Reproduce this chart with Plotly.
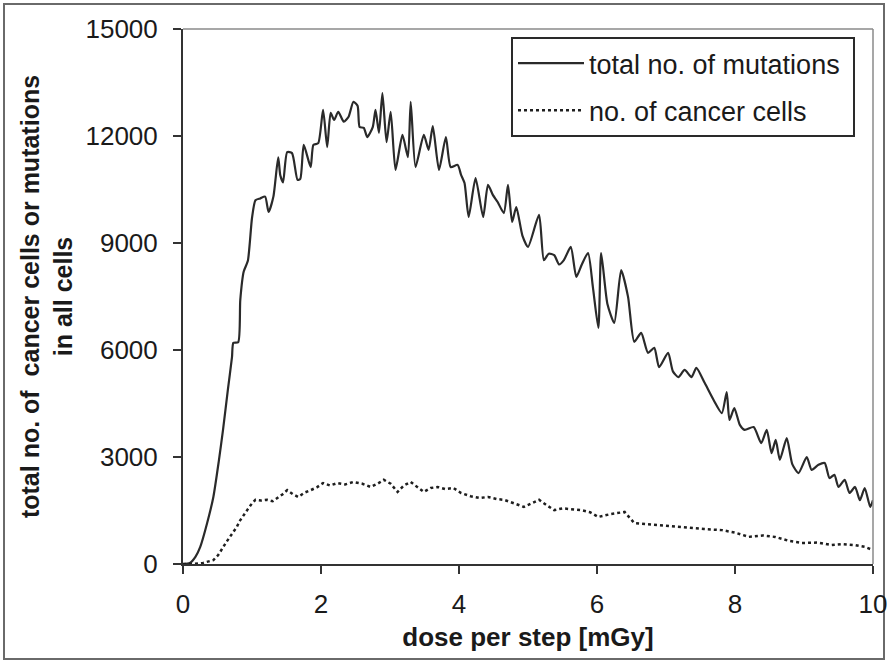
import plotly.graph_objects as go

# ---- data ----
mut_dose = [0.0, 0.1, 0.18, 0.25, 0.35, 0.44, 0.52, 0.58, 0.65, 0.71, 0.73, 0.80, 0.83, 0.88, 0.94,
            1.0, 1.05, 1.12, 1.19, 1.24, 1.31, 1.38, 1.41, 1.45, 1.51, 1.58, 1.66, 1.70, 1.75, 1.85,
            1.89, 1.96, 2.03, 2.09, 2.14, 2.19, 2.25, 2.33, 2.40, 2.47, 2.53, 2.56, 2.62, 2.67, 2.75,
            2.79, 2.84, 2.89, 2.95, 3.01, 3.08, 3.18, 3.26, 3.30, 3.37, 3.49, 3.56, 3.62, 3.71, 3.81,
            3.88, 3.98, 4.03, 4.08, 4.14, 4.24, 4.35, 4.42, 4.49, 4.56, 4.65, 4.71, 4.77, 4.83, 4.92,
            5.00, 5.16, 5.23, 5.30, 5.38, 5.45, 5.52, 5.62, 5.70, 5.78, 5.87, 5.94, 6.02, 6.06, 6.15,
            6.25, 6.35, 6.45, 6.54, 6.64, 6.74, 6.83, 6.90, 7.03, 7.10, 7.18, 7.27, 7.37, 7.44, 7.56,
            7.69, 7.81, 7.88, 7.92, 7.99, 8.07, 8.14, 8.27, 8.38, 8.46, 8.53, 8.59, 8.65, 8.75, 8.83,
            8.92, 9.04, 9.11, 9.21, 9.30, 9.37, 9.44, 9.50, 9.59, 9.66, 9.74, 9.81, 9.88, 9.96, 10.0]
mutations = [0, 30, 200, 480, 1150, 1880, 2900, 3760, 4880, 5800, 6200, 6220, 7400, 8200, 8500,
             9700, 10200, 10250, 10300, 9870, 10300, 11400, 10900, 10700, 11550, 11520, 10770, 10800, 11750, 11130,
             11750, 11800, 12730, 11690, 12650, 12450, 12680, 12400, 12540, 12960, 12850, 12250, 12230, 11970, 12250,
             12730, 12090, 13200, 11830, 12680, 11050, 12030, 11410, 12960, 11130, 12030, 11610, 12280, 11050, 11970,
             11130, 11190, 10910, 10680, 9730, 10820, 9730, 10630, 10350, 10150, 9840, 10630, 9590, 10010, 9200,
             8890, 9790, 8520, 8700, 8660, 8400, 8520, 8890, 8050, 8400, 8720, 7770, 6620, 8720, 7300,
             6760, 8240, 7490, 6230, 6480, 5920, 6060, 5520, 5920, 5400, 5240, 5440, 5240, 5500, 5080,
             4600, 4230, 4820, 4040, 4370, 3900, 3760, 3840, 3390, 3760, 3110, 3480, 2920, 3530, 2800,
             2550, 3000, 2640, 2780, 2830, 2410, 2500, 2160, 2360, 1990, 2160, 1790, 2130, 1600, 1790]

cancer_dose = [0.0, 0.15, 0.29, 0.36, 0.44, 0.51, 0.58, 0.63, 0.68, 0.73, 0.78, 0.82, 0.86, 0.93, 1.0,
               1.05, 1.13, 1.22, 1.30, 1.37, 1.44, 1.51, 1.59, 1.67, 1.76, 1.85, 1.94, 2.03, 2.13, 2.24,
               2.35, 2.47, 2.60, 2.72, 2.82, 2.91, 3.01, 3.11, 3.20, 3.30, 3.40, 3.49, 3.59, 3.69, 3.80,
               3.92, 4.03, 4.17, 4.30, 4.42, 4.55, 4.65, 4.80, 4.94, 5.05, 5.16, 5.27, 5.38, 5.50, 5.64,
               5.77, 5.90, 6.02, 6.20, 6.40, 6.54, 6.70, 6.93, 7.10, 7.33, 7.55, 7.81, 8.00, 8.20, 8.40,
               8.58, 8.78, 8.97, 9.20, 9.40, 9.55, 9.74, 9.88, 10.0]
cancer = [0, 0, 30, 60, 110, 250, 480, 620, 760, 900, 1040, 1200, 1320, 1510, 1700,
          1800, 1780, 1800, 1760, 1850, 1950, 2070, 1960, 1880, 2000, 2070, 2150, 2270, 2200, 2270,
          2230, 2300, 2250, 2160, 2250, 2360, 2250, 2020, 2200, 2300, 2150, 2020, 2130, 2160, 2100,
          2130, 1990, 1900, 1850, 1880, 1820, 1800, 1700, 1600, 1700, 1800, 1650, 1510, 1560, 1530,
          1510, 1450, 1320, 1400, 1460, 1150, 1120, 1090, 1060, 1010, 980, 950, 880, 760, 800,
          760, 650, 590, 600, 530, 560, 530, 480, 390]

y_ticks = [0, 3000, 6000, 9000, 12000, 15000]
x_ticks = [0, 2, 4, 6, 8, 10]

FONT = "Liberation Sans, Arial, sans-serif"

fig = go.Figure()
fig.add_trace(go.Scatter(
    x=mut_dose, y=mutations, mode="lines", name="total no. of mutations\u00a0",
    line=dict(color="#2a2a2a", width=2.2, shape="spline", smoothing=0.6),
    legendgroup="a"))
fig.add_trace(go.Scatter(
    x=cancer_dose, y=cancer, mode="lines", name="no. of cancer cells",
    line=dict(color="#1e1e1e", width=2.5, dash="dot"),
    legendgroup="b"))

L, R, T, B = 183, 14, 29, 98
W, H = 887, 662
pw, ph = W - L - R, H - T - B

fig.update_layout(
    width=W, height=H,
    margin=dict(l=L, r=R, t=T, b=B, pad=0, autoexpand=False),
    paper_bgcolor="white", plot_bgcolor="white",
    font=dict(family=FONT, color="#1a1a1a", size=26),
    showlegend=True,
    legend=dict(
        x=(855 - L) / pw, y=1 - (37 - T) / ph, xanchor="right", yanchor="top",
        bgcolor="white", bordercolor="#2a2a2a", borderwidth=2,
        font=dict(family=FONT, size=27, color="#1a1a1a"),
        traceorder="grouped", tracegroupgap=9, itemwidth=66),
    xaxis=dict(
        range=[0, 10], tickvals=x_ticks, ticktext=[str(v) for v in x_ticks],
        showgrid=False, zeroline=False, showline=True, linecolor="#333", linewidth=2,
        ticks="outside", ticklen=8, tickwidth=2, tickcolor="#333",
        tickfont=dict(size=26), ticklabelstandoff=8, automargin=False,
        ticklabeloverflow="allow",
        title=dict(text="<b>dose per step [mGy]</b>", font=dict(size=26), standoff=10)),
    yaxis=dict(
        range=[0, 15000], tickvals=y_ticks, ticktext=[str(v) for v in y_ticks],
        showgrid=False, zeroline=False, showline=True, linecolor="#333", linewidth=2,
        ticks="outside", ticklen=8, tickwidth=2, tickcolor="#333",
        tickfont=dict(size=26), ticklabelstandoff=10, automargin=False,
        ticklabeloverflow="allow",
        title=dict(text="<b>total no. of  cancer cells or mutations<br>in all cells</b>",
                   font=dict(size=25), standoff=6)),
    shapes=[
        # top and right frame of plot area
        dict(type="line", xref="paper", yref="paper", x0=0, x1=1, y0=1, y1=1,
             line=dict(color="#8a8a8a", width=1.5)),
        dict(type="line", xref="paper", yref="paper", x0=1, x1=1, y0=0, y1=1,
             line=dict(color="#8a8a8a", width=1.5)),
        # outer frame of the whole figure
        dict(type="rect", xref="paper", yref="paper",
             x0=(4 - L) / pw, x1=(884 - L) / pw,
             y0=1 - (659 - T) / ph, y1=1 - (4 - T) / ph,
             line=dict(color="#6a6a6a", width=2), layer="below"),
    ],
)

fig.write_html("out.html", config={"displayModeBar": False},
               post_script="document.body.style.margin='0';")
